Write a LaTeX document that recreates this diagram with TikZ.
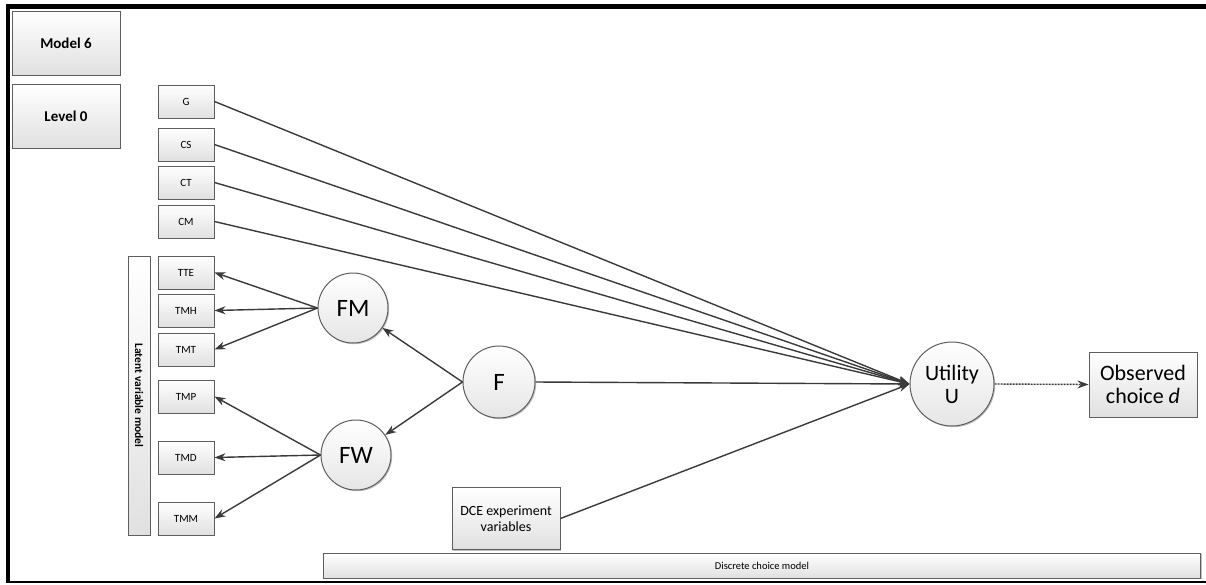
\documentclass[tikz,border=0pt]{standalone}
\usepackage{fontspec}
\setmainfont{Carlito}
\usetikzlibrary{arrows.meta,shadows}
\definecolor{ln}{HTML}{3A3A3A}
\definecolor{bd}{HTML}{5E5E5E}
\begin{document}
\begin{tikzpicture}[x=1pt,y=-1pt,
  box/.style={draw=bd, line width=1pt, top color=white, bottom color=black!12, inner sep=0pt, align=center,
    drop shadow={shadow xshift=1.2pt, shadow yshift=-1.2pt, opacity=0.25, fill=black}},
  small/.style={box, minimum width=56pt, minimum height=33pt, font=\fontsize{11}{13}\selectfont},
  big/.style={box, minimum width=108pt, minimum height=64pt, font=\fontsize{15}{17}\selectfont\bfseries},
  circ/.style={circle, draw=bd, line width=1pt, top color=white, bottom color=black!10, inner sep=0pt, align=center,
    drop shadow={shadow xshift=1.2pt, shadow yshift=-1.2pt, opacity=0.25, fill=black}},
  conn/.style={draw=ln, line width=1.4pt},
  arr/.style={conn, -{Stealth[length=11pt,width=8pt]}}
]
\useasboundingbox (0,0) rectangle (1206,584);
% frame
\fill[black] (6,4) rectangle (1206,9);
\fill[black] (6,4) rectangle (10,582);
\draw[black, line width=1.5pt] (6,582) -- (1206,582);

% header boxes
\node[big] (m6) at (66,43) {Model 6};
\node[big] (l0) at (66,116) {Level 0};

% observed indicators
\node[small] (G) at (186,101.5) {G};
\node[small] (CS) at (186,144.5) {CS};
\node[small] (CT) at (186,182.5) {CT};
\node[small] (CM) at (186,221.5) {CM};

\node[box, minimum width=22pt, minimum height=279pt] (lvm) at (139,395.5) {};
\node[rotate=-90, font=\fontsize{11.5}{13}\selectfont\bfseries] (lvmt) at (lvm.center) {Latent variable model};

\node[small] (TTE) at (186,272.5) {TTE};
\node[small] (TMH) at (186,310.5) {TMH};
\node[small] (TMT) at (186,349.5) {TMT};
\node[small] (TMP) at (186,396.5) {TMP};
\node[small] (TMD) at (186,457.5) {TMD};
\node[small] (TMM) at (186,518.5) {TMM};

% latent nodes
\node[circ, minimum size=70pt, font=\fontsize{25}{27}\selectfont] (FM) at (353,308) {FM};
\node[circ, minimum size=70pt, font=\fontsize{25}{27}\selectfont] (FW) at (356,455) {FW};
\node[circ, minimum size=72pt, font=\fontsize{25}{27}\selectfont] (F) at (499,382) {F};
\node[circ, minimum size=84pt, font=\fontsize{22}{24}\selectfont] (U) at (952,384) {Utility\\[-1pt]U};

\node[box, minimum width=108pt, minimum height=65pt, font=\fontsize{22}{24}\selectfont] (obs) at (1143,384.5) {Observed\\[-1pt]choice \textit{d}};
\node[box, minimum width=108pt, minimum height=62pt, font=\fontsize{14}{16}\selectfont] (dce) at (506,518.5) {DCE experiment\\variables};
\node[box, minimum width=877pt, minimum height=25pt, font=\fontsize{10.5}{12}\selectfont] (dcm) at (762,565.5) {Discrete choice model};

% connectors
\foreach \s in {G,CS,CT,CM} \draw[arr] (\s.east) -- (U.west);
\draw[arr] (F.east) -- (U.west);
\draw[arr] (dce.east) -- (U.west);

\draw[arr] (F.west) -- (FM);
\draw[arr] (F.west) -- (FW);

\foreach \t in {TTE,TMH,TMT} \draw[arr] (FM.west) -- (\t.east);
\foreach \t in {TMP,TMD,TMM} \draw[arr] (FW.west) -- (\t.east);

\draw[arr, dash pattern=on 2pt off 1pt] (U.east) -- (obs.west);
\end{tikzpicture}
\end{document}
